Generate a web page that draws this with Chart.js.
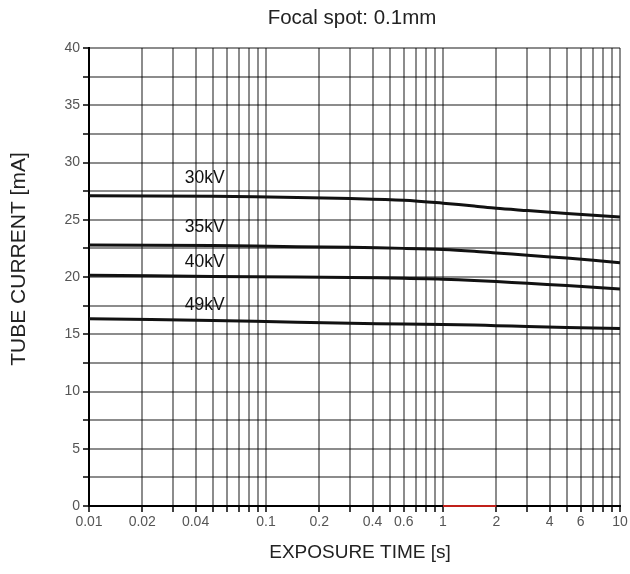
<!DOCTYPE html>
<html>
<head>
<meta charset="utf-8">
<script src="https://cdn.jsdelivr.net/npm/chart.js@4/dist/chart.umd.min.js"></script>
<style>
  html, body { margin: 0; padding: 0; background: #fff; }
  #wrap { width: 630px; height: 574px; position: relative; }
</style>
</head>
<body>
<div id="wrap"><canvas id="myChart"></canvas></div>
<script>
// exposure time [s] where the curves were read
const times = [0.01, 0.05, 0.15, 0.3, 0.6, 1, 1.5, 2, 3, 5, 10];

// tube current [mA] per voltage
const kv30 = [27.1, 27.05, 26.95, 26.85, 26.7, 26.45, 26.2, 26.0, 25.8, 25.55, 25.25];
const kv35 = [22.8, 22.75, 22.65, 22.6, 22.5, 22.4, 22.25, 22.1, 21.9, 21.65, 21.25];
const kv40 = [20.15, 20.05, 20.0, 19.95, 19.9, 19.8, 19.7, 19.6, 19.45, 19.25, 18.95];
const kv49 = [16.35, 16.2, 16.05, 15.95, 15.9, 15.85, 15.8, 15.75, 15.68, 15.6, 15.5];

const seriesNames = ["30kV", "35kV", "40kV", "49kV"];
const seriesValues = [kv30, kv35, kv40, kv49];

// red mark on the time axis
const redTimes = [1, 2];
const redValues = [0, 0];

// tick labels
const xLabelTicks = [0.01, 0.02, 0.04, 0.1, 0.2, 0.4, 0.6, 1, 2, 4, 6, 10];
const yMin = 0, yMax = 40, yStep = 2.5, yLabelStep = 5;

const FONT = "'Liberation Sans', Arial, sans-serif";

// curve labels drawn above the left part of each curve
const curveLabels = {
  id: "curveLabels",
  afterDatasetsDraw(chart) {
    const { ctx, scales } = chart;
    const offsets = [-18, -18, -13, -14];
    ctx.save();
    ctx.font = "17.5px " + FONT;
    ctx.fillStyle = "#111";
    ctx.textAlign = "center";
    ctx.textBaseline = "middle";
    seriesNames.forEach((name, i) => {
      const x = scales.x.getPixelForValue(0.045);
      const y = scales.y.getPixelForValue(seriesValues[i][0]) + offsets[i];
      ctx.fillText(name, x, y);
    });
    ctx.restore();
  }
};

// chart title and axis titles
const titles = {
  id: "titles",
  afterDraw(chart) {
    const { ctx } = chart;
    ctx.save();
    ctx.fillStyle = "#222";
    ctx.textAlign = "center";
    ctx.textBaseline = "middle";
    ctx.font = "20.5px " + FONT;
    ctx.fillText("Focal spot: 0.1mm", 352, 18);
    ctx.font = "19px " + FONT;
    ctx.fillText("EXPOSURE TIME [s]", 360, 553);
    ctx.translate(19, 259);
    ctx.rotate(-Math.PI / 2);
    ctx.font = "21px " + FONT;
    ctx.fillText("TUBE CURRENT [mA]", 0, 0);
    ctx.restore();
  }
};

const datasets = seriesNames.map((name, i) => ({
  label: name,
  data: times.map((t, j) => ({ x: t, y: seriesValues[i][j] })),
  borderColor: "#111",
  borderWidth: 3,
  pointRadius: 0,
  tension: 0.3,
  fill: false
}));

datasets.push({
  label: "range",
  data: redTimes.map((t, j) => ({ x: t, y: redValues[j] })),
  borderColor: "#c0201a",
  borderWidth: 2,
  pointRadius: 0,
  clip: 4
});

const gridStyle = {
  color: "rgba(0,0,0,0.45)",
  lineWidth: 2,
  tickLength: 6,
  tickColor: "#000",
  tickWidth: 1.5
};

const ctx = document.getElementById("myChart").getContext("2d");
new Chart(ctx, {
  type: "line",
  data: { datasets },
  options: {
    responsive: true,
    maintainAspectRatio: false,
    animation: false,
    layout: { padding: { top: 48, right: 10, left: 0, bottom: 0 } },
    plugins: {
      legend: { display: false },
      tooltip: { enabled: false },
      title: { display: false }
    },
    scales: {
      x: {
        type: "logarithmic",
        min: 0.01,
        max: 10,
        afterFit: (scale) => { scale.height = 68; },
        afterBuildTicks: (scale) => {
          const ticks = [];
          for (let d = 0.01; d < 10; d *= 10) {
            for (let m = 1; m < 10; m++) ticks.push({ value: +(m * d).toPrecision(3) });
          }
          ticks.push({ value: 10 });
          scale.ticks = ticks;
        },
        ticks: {
          autoSkip: false,
          maxRotation: 0,
          padding: 2,
          color: "#555",
          font: { family: FONT, size: 14 },
          callback: (v) => xLabelTicks.some(t => Math.abs(t - v) < 1e-9) ? String(v) : ""
        },
        grid: gridStyle,
        border: { color: "#000", width: 2 }
      },
      y: {
        min: yMin,
        max: yMax,
        afterFit: (scale) => { scale.width = 89; },
        ticks: {
          stepSize: yStep,
          padding: 3,
          color: "#555",
          font: { family: FONT, size: 14 },
          callback: (v) => v % yLabelStep === 0 ? String(v) : ""
        },
        grid: gridStyle,
        border: { color: "#000", width: 2 }
      }
    }
  },
  plugins: [curveLabels, titles]
});
</script>
</body>
</html>
